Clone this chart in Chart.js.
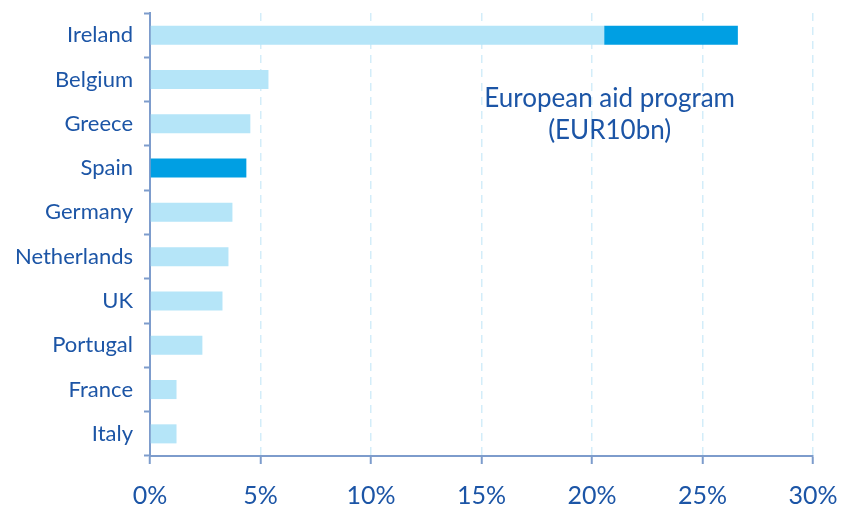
<!DOCTYPE html>
<html>
<head>
<meta charset="utf-8">
<script src="https://cdn.jsdelivr.net/npm/chart.js@4"></script>
<style>
  html, body { margin: 0; padding: 0; background: #ffffff; }
  #wrap { width: 841px; height: 508px; position: relative; }
</style>
</head>
<body>
<div id="wrap"><canvas id="c" width="841" height="508"></canvas></div>
<script>
const categories = ["Ireland", "Belgium", "Greece", "Spain", "Germany", "Netherlands", "UK", "Portugal", "France", "Italy"];
const baseValues = [20.55, 5.36, 4.54, 0, 3.73, 3.55, 3.28, 2.37, 1.2, 1.2];
const aidValues  = [6.05, 0, 0, 4.36, 0, 0, 0, 0, 0, 0];
const xTicks = [0, 5, 10, 15, 20, 25, 30];
const annotationLines = ["European aid program", "(EUR10bn)"];

const textColor = '#1c55a6';
const axisColor = '#7d9ccc';
const gridColor = '#d3edf9';
const fontFamily = 'Lato, "Open Sans", sans-serif';

const annotationPlugin = {
  id: 'annot',
  afterDraw(chart) {
    const ctx = chart.ctx;
    const x = chart.scales.x.getPixelForValue(20.8);
    const y1 = chart.scales.y.getPixelForValue(1) + 19;
    ctx.save();
    ctx.fillStyle = textColor;
    ctx.font = '26px ' + fontFamily;
    ctx.textAlign = 'center';
    ctx.textBaseline = 'middle';
    annotationLines.forEach((t, i) => ctx.fillText(t, x, y1 + i * 32));
    ctx.restore();
  }
};

new Chart(document.getElementById('c'), {
  type: 'bar',
  data: {
    labels: categories,
    datasets: [
      { label: 'Base', data: baseValues, backgroundColor: '#b5e5f8', barPercentage: 0.43, categoryPercentage: 1 },
      { label: 'European aid program', data: aidValues, backgroundColor: '#009fe3', barPercentage: 0.43, categoryPercentage: 1 }
    ]
  },
  options: {
    indexAxis: 'y',
    responsive: false,
    animation: false,
    layout: { padding: 0 },
    plugins: { legend: { display: false }, tooltip: { enabled: false } },
    scales: {
      x: {
        stacked: true,
        min: 0, max: 30,
        afterBuildTicks(scale) { scale.ticks = xTicks.map(v => ({ value: v })); },
        afterFit(scale) { scale.height = 52; scale.paddingRight = 28; scale.paddingLeft = 0; },
        border: { color: axisColor, width: 2, dash: [8, 6] },
        grid: { color: gridColor, lineWidth: 1.5, drawTicks: true, tickLength: 8, tickColor: axisColor, tickWidth: 2, tickBorderDash: [] },
        ticks: { color: textColor, font: { family: fontFamily, size: 25 }, padding: 17, callback: v => v + '%' }
      },
      y: {
        stacked: true,
        afterFit(scale) { scale.width = 150; scale.paddingTop = 13; scale.paddingBottom = 0; },
        border: { color: axisColor, width: 2 },
        grid: { display: true, drawOnChartArea: false, offset: true, drawTicks: true, tickLength: 6, tickColor: axisColor, tickWidth: 2 },
        ticks: { color: textColor, font: { family: fontFamily, size: 22 }, padding: 11 }
      }
    }
  },
  plugins: [annotationPlugin]
});
</script>
</body>
</html>
